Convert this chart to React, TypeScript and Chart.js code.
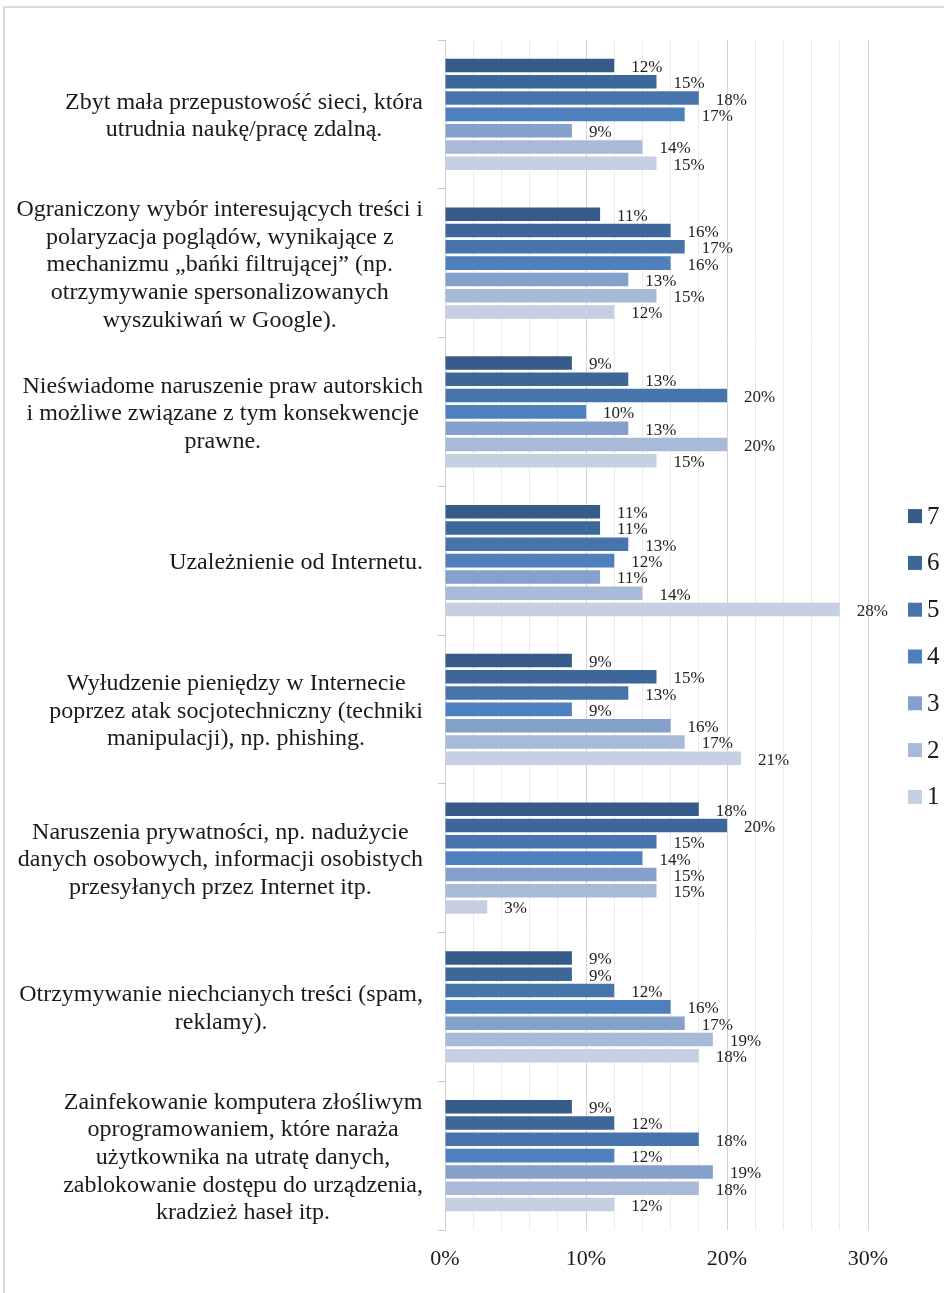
import React, { useEffect, useRef } from "react";
import { Chart, registerables } from "chart.js";

Chart.register(...registerables);

const categories: string[][] = [
  ["Zbyt mała przepustowość sieci, która", "utrudnia naukę/pracę zdalną."],
  [
    "Ograniczony wybór interesujących treści i",
    "polaryzacja poglądów, wynikające z",
    "mechanizmu „bańki filtrującej” (np.",
    "otrzymywanie spersonalizowanych",
    "wyszukiwań w Google).",
  ],
  ["Nieświadome naruszenie praw autorskich", "i możliwe związane z tym konsekwencje", "prawne."],
  ["Uzależnienie od Internetu."],
  ["Wyłudzenie pieniędzy w Internecie", "poprzez atak socjotechniczny (techniki", "manipulacji), np. phishing."],
  ["Naruszenia prywatności, np. nadużycie", "danych osobowych, informacji osobistych", "przesyłanych przez Internet itp."],
  ["Otrzymywanie niechcianych treści (spam,", "reklamy)."],
  [
    "Zainfekowanie komputera złośliwym",
    "oprogramowaniem, które naraża",
    "użytkownika na utratę danych,",
    "zablokowanie dostępu do urządzenia,",
    "kradzież haseł itp.",
  ],
];

const seriesNames = ["7", "6", "5", "4", "3", "2", "1"];
const s7 = [12, 11, 9, 11, 9, 18, 9, 9];
const s6 = [15, 16, 13, 11, 15, 20, 9, 12];
const s5 = [18, 17, 20, 13, 13, 15, 12, 18];
const s4 = [17, 16, 10, 12, 9, 14, 16, 12];
const s3 = [9, 13, 13, 11, 16, 15, 17, 19];
const s2 = [14, 15, 20, 14, 17, 15, 19, 18];
const s1 = [15, 12, 15, 28, 21, 3, 18, 12];
const seriesValues = [s7, s6, s5, s4, s3, s2, s1];
const seriesColors = ["#365b88", "#3e6799", "#4674ab", "#4e80bd", "#85a1cb", "#a9b9d8", "#c5d0e3"];
const xTicks = [0, 10, 20, 30];

const FONT = '"Liberation Serif", "Times New Roman", serif';

const labelPlugin = {
  id: "customLabels",
  afterDraw(chart: any) {
    const ctx = chart.ctx;
    const area = chart.chartArea;
    const yScale = chart.scales.y;
    ctx.save();
    // category labels
    ctx.font = `24px ${FONT}`;
    ctx.fillStyle = "#1a1a1a";
    ctx.textBaseline = "middle";
    ctx.textAlign = "center";
    const rightEdge = area.left - 22;
    const lh = 27.6;
    categories.forEach((lines, i) => {
      const yc = yScale.getPixelForValue(i) + 2;
      let w = 0;
      lines.forEach((l) => (w = Math.max(w, ctx.measureText(l).width)));
      const cx = rightEdge - w / 2;
      lines.forEach((l, j) => {
        ctx.fillText(l, cx, yc + (j - (lines.length - 1) / 2) * lh);
      });
    });
    // data labels
    ctx.font = `17px ${FONT}`;
    ctx.fillStyle = "#222";
    ctx.textAlign = "left";
    chart.data.datasets.forEach((ds: any, di: number) => {
      const meta = chart.getDatasetMeta(di);
      meta.data.forEach((bar: any, i: number) => {
        ctx.fillText(ds.data[i] + "%", bar.x + 17, bar.y + 2);
      });
    });
    // legend
    ctx.font = `25px ${FONT}`;
    const step = 46.8;
    const n = seriesNames.length;
    const cy = (area.top + area.bottom) / 2 + 21.5;
    const lx = area.right + 40;
    seriesNames.forEach((name, k) => {
      const y = cy + (k - (n - 1) / 2) * step;
      ctx.fillStyle = seriesColors[k];
      ctx.fillRect(lx, y - 7, 14, 14);
      ctx.fillStyle = "#1a1a1a";
      ctx.fillText(name, lx + 19, y + 1);
    });
    ctx.restore();
  },
};

export default function App() {
  const ref = useRef<HTMLCanvasElement>(null);
  useEffect(() => {
    document.body.style.margin = "0";
    const chart = new Chart(ref.current as HTMLCanvasElement, {
      type: "bar",
      data: {
        labels: categories.map((c) => c.join(" ")),
        datasets: seriesNames.map((name, k) => ({
          label: name,
          data: seriesValues[k],
          backgroundColor: seriesColors[k],
          borderWidth: 0,
          categoryPercentage: 0.767,
          barPercentage: 0.83,
        })),
      },
      options: {
        indexAxis: "y",
        responsive: false,
        animation: false,
        devicePixelRatio: 1,
        layout: { padding: { top: 40, right: 76, left: 0, bottom: 0 } },
        plugins: { legend: { display: false }, tooltip: { enabled: false } },
        scales: {
          x: {
            min: 0,
            max: 30,
            afterFit(scale: any) {
              scale.height = 63;
            },
            ticks: {
              stepSize: 2,
              autoSkip: false,
              maxRotation: 0,
              padding: 16,
              color: "#1a1a1a",
              font: { family: FONT, size: 22 },
              callback: (v: any) => (xTicks.includes(Number(v)) ? v + "%" : ""),
            },
            grid: {
              drawTicks: false,
              lineWidth: 1,
              color: (c: any) => (c.tick && c.tick.value % 10 === 0 ? "#d4d4d4" : "#ebebeb"),
            },
            border: { display: false },
          },
          y: {
            afterFit(scale: any) {
              scale.width = 445;
            },
            ticks: { display: false },
            grid: {
              offset: true,
              drawOnChartArea: false,
              drawTicks: true,
              tickLength: 7,
              color: "#c8c8c8",
            },
            border: { display: true, color: "#d4d4d4" },
          },
        },
      },
      plugins: [labelPlugin],
    } as any);
    return () => chart.destroy();
  }, []);
  return (
    <div style={{ position: "relative", width: 944, height: 1293, overflow: "hidden", background: "#fff" }}>
      <div
        style={{
          position: "absolute",
          left: 3,
          top: 6,
          width: 980,
          height: 1320,
          border: "2px solid #dadada",
          boxSizing: "border-box",
        }}
      />
      <canvas ref={ref} width={944} height={1293} style={{ position: "absolute", left: 0, top: 0 }} />
    </div>
  );
}
